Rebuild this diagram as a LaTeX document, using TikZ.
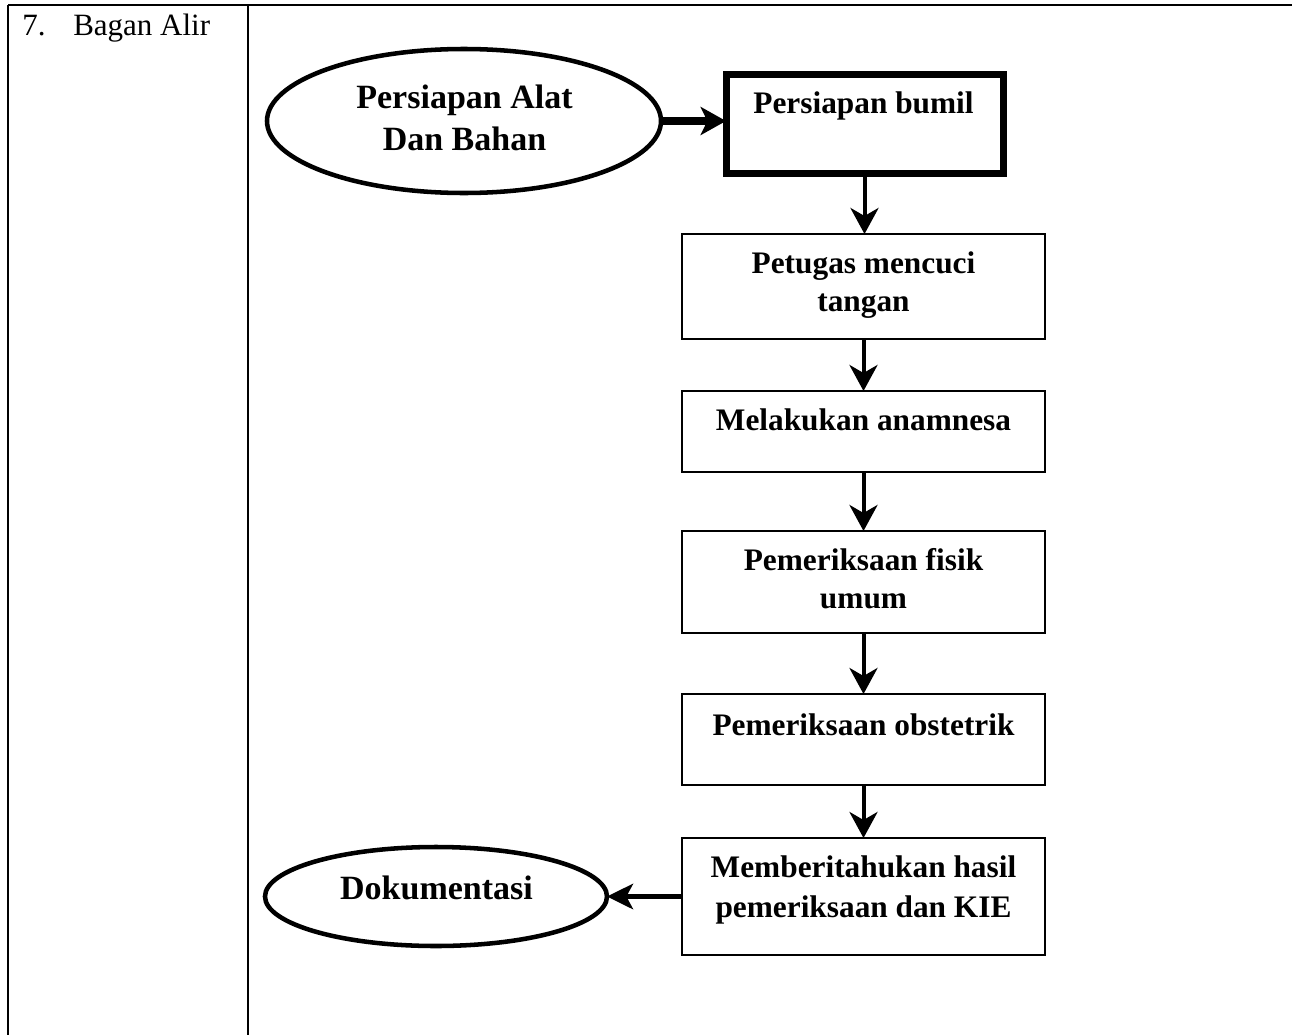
\documentclass[tikz,border=0pt]{standalone}
\usepackage{fontspec}
\setmainfont{Liberation Serif}
\usetikzlibrary{arrows.meta,shapes.geometric}
\tikzset{
  flowbox/.style={draw, line width=1.3pt, rectangle, minimum width=272.25pt, inner sep=0pt, outer sep=0pt},
  thickbox/.style={draw, line width=5.25pt, rectangle, inner sep=0pt, outer sep=0pt},
  oval/.style={draw, line width=3.4pt, ellipse, inner sep=0pt, outer sep=0pt},
  label text/.style={font=\fontsize{23.5}{28.5}\selectfont\bfseries, align=center, inner sep=0pt, anchor=base},
  oval text/.style={label text, font=\fontsize{25.5}{31.5}\selectfont\bfseries},
  down arrow/.style={line width=3pt, -{Stealth[length=19.5pt, width=21pt, inset=6pt]}},
  tableline/.style={line width=1.5pt}
}
\begin{document}
\begin{tikzpicture}[x=0.75pt,y=-0.75pt]
\useasboundingbox (0,0) rectangle (1292,1035);
% table
\coordinate (tl) at (8,5);
\coordinate (tr) at (1292,5);
\coordinate (bl) at (8,1035);
\coordinate (ct) at (248,5);
\coordinate (cb) at (248,1035);
\draw[tableline] (tl) -- (tr);
\draw[tableline] (tl) -- (bl);
\draw[tableline] (ct) -- (cb);
\node[anchor=base west, inner sep=0pt, font=\fontsize{23.25}{28}\selectfont] (num) at (22,35) {7.};
\node[anchor=base west, inner sep=0pt, font=\fontsize{23.25}{28}\selectfont] (title) at (73,35) {Bagan Alir};
% shapes
\node[oval, minimum width=295.5pt, minimum height=108pt] (e1) at (464,121) {};
\node[thickbox, minimum width=207.75pt, minimum height=74.25pt] (b1) at (864.5,123.5) {};
\node[flowbox, minimum height=78.75pt] (b2) at (863.5,286.5) {};
\node[flowbox, minimum height=60.75pt] (b3) at (863.5,431.5) {};
\node[flowbox, minimum height=76.5pt] (b4) at (863.5,582) {};
\node[flowbox, minimum height=68.25pt] (b5) at (863.5,739.5) {};
\node[flowbox, minimum height=87.75pt] (b6) at (863.5,896.5) {};
\node[oval, minimum width=256.5pt, minimum height=74.25pt] (e2) at (436,896.5) {};
% texts (multi-line nodes: base = last line)
\node[oval text] (t1) at (464.5,150) {Persiapan Alat\\Dan Bahan};
\node[label text] (t2) at (863.5,113) {Persiapan bumil};
\node[label text] (t3) at (863.5,311) {Petugas mencuci\\tangan};
\node[label text] (t4) at (863.5,430) {Melakukan anamnesa};
\node[label text] (t5) at (863.5,608) {Pemeriksaan fisik\\umum};
\node[label text] (t6) at (863.5,735) {Pemeriksaan obstetrik};
\node[label text, font=\fontsize{23.5}{30}\selectfont\bfseries] (t7) at (863.5,917) {Memberitahukan hasil\\pemeriksaan dan KIE};
\node[oval text] (t8) at (436.5,899) {Dokumentasi};
% connectors
\draw[line width=5.6pt, -{Stealth[length=19pt, width=21pt, inset=5pt]}] (e1.east) -- (e1.east -| b1.west);
\draw[down arrow] (b1.south) -- (b1.south |- b2.north);
\draw[down arrow] (b2.south) -- (b3.north);
\draw[down arrow] (b3.south) -- (b4.north);
\draw[down arrow] (b4.south) -- (b5.north);
\draw[down arrow] (b5.south) -- (b6.north);
\draw[line width=3.75pt, -{Stealth[length=19.5pt, width=19pt, inset=5pt]}] (b6.west) -- (e2.east);
\end{tikzpicture}
\end{document}
